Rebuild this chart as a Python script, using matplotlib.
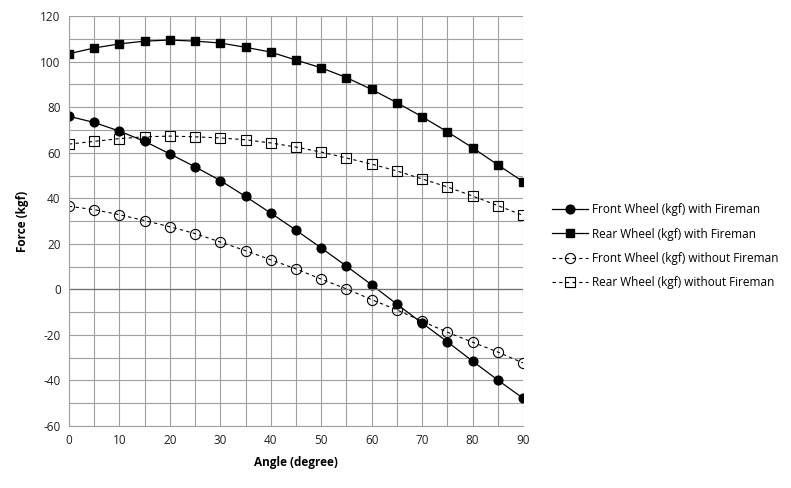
import matplotlib
matplotlib.use("Agg")
import matplotlib.pyplot as plt
import numpy as np

plt.rcParams['font.family'] = ['Open Sans', 'DejaVu Sans']
plt.rcParams['axes.unicode_minus'] = False

angle = np.arange(0, 95, 5)
front_with = [76, 73.3, 69.5, 65, 59.5, 53.8, 47.8, 40.8, 33.5, 26, 18.2, 10.2, 2,
              -6.5, -14.8, -23, -31.5, -39.8, -47.8]
rear_with = [103.5, 106, 107.8, 109, 109.5, 109, 108.2, 106.3, 104.2, 100.7, 97.3,
             93, 87.8, 82, 75.8, 69.2, 62.2, 54.7, 47.3]
front_without = [36.5, 35, 32.8, 30.2, 27.5, 24.5, 20.8, 17, 13, 9, 4.5, 0.2, -4.5,
                 -9, -14, -18.8, -23.2, -27.5, -32.3]
rear_without = [63.8, 65, 66.2, 67, 67.3, 67, 66.5, 65.7, 64.3, 62.5, 60.3, 57.7, 55,
                52, 48.5, 45, 41, 36.8, 32.5]

fig = plt.figure(figsize=(7.91, 4.88), dpi=100)
ax = fig.add_axes([0.0872, 0.127, 0.574, 0.840])

ax.plot(angle, front_with, '-', color='black', lw=0.9, marker='o', ms=6.3,
        label='Front Wheel (kgf) with Fireman')
ax.plot(angle, rear_with, '-', color='black', lw=0.9, marker='s', ms=6.3,
        label='Rear Wheel (kgf) with Fireman')
ax.plot(angle, front_without, '--', color='black', lw=0.8, marker='o', ms=7.3,
        mfc='none', mew=0.8, dashes=(3, 3), label='Front Wheel (kgf) without Fireman')
ax.plot(angle, rear_without, '--', color='black', lw=0.8, marker='s', ms=7.3,
        mfc='none', mew=0.8, dashes=(3, 3), label='Rear Wheel (kgf) without Fireman')

ax.set_xlim(0, 90)
ax.set_ylim(-60, 120)
ax.set_xticks(np.arange(0, 91, 10))
ax.set_xticks(np.arange(0, 91, 5), minor=True)
ax.set_yticks(np.arange(-60, 121, 20))
ax.set_yticks(np.arange(-60, 121, 10), minor=True)
ax.grid(which='both', color='#a0a0a0', lw=0.8)
ax.axhline(0, color='#707070', lw=0.9)
ax.tick_params(which='both', length=0, labelsize=8.5, pad=6, labelcolor='#202020')
for s in ['top', 'right']:
    ax.spines[s].set_visible(False)
for s in ['left', 'bottom']:
    ax.spines[s].set_color('#a0a0a0')
ax.set_axisbelow(True)

ax.set_xlabel('Angle (degree)', fontsize=8.5, fontweight='bold', labelpad=6)
ax.set_ylabel('Force (kgf)', fontsize=8.5, fontweight='bold', labelpad=8)

fig.legend(loc='upper left', bbox_to_anchor=(0.685, 0.605), frameon=False,
           fontsize=8.5, handlelength=3.0, labelspacing=0.95, handletextpad=0.35)

fig.savefig('out.png', dpi=100)
